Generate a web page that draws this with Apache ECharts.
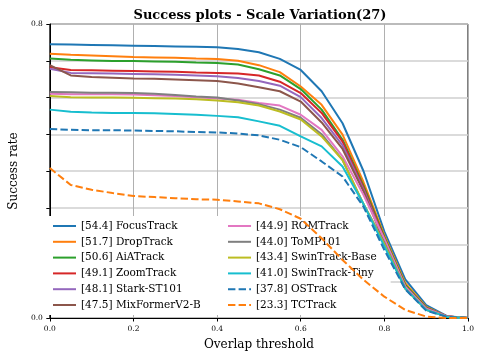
<!DOCTYPE html>
<html>
<head>
<meta charset="utf-8">
<script src="https://cdn.jsdelivr.net/npm/echarts@6/dist/echarts.min.js"></script>
<style>
  html, body { margin: 0; padding: 0; background: #fff; }
  #chart { width: 482px; height: 359px; }
</style>
</head>
<body>
<div id="chart"></div>
<script>
var thresholds = [0, 0.05, 0.1, 0.15, 0.2, 0.25, 0.3, 0.35, 0.4, 0.45, 0.5, 0.55, 0.6, 0.65, 0.7, 0.75, 0.8, 0.85, 0.9, 0.95, 1.0];

var names = ['[54.4] FocusTrack', '[51.7] DropTrack', '[50.6] AiATrack', '[49.1] ZoomTrack', '[48.1] Stark-ST101', '[47.5] MixFormerV2-B',
	'[44.9] ROMTrack', '[44.0] ToMP101', '[43.4] SwinTrack-Base', '[41.0] SwinTrack-Tiny', '[37.8] OSTrack', '[23.3] TCTrack'];

var focusTrack = [0.745, 0.744, 0.743, 0.742, 0.741, 0.740, 0.739, 0.738, 0.737, 0.732, 0.723, 0.705, 0.675, 0.617, 0.530, 0.400, 0.235, 0.105, 0.035, 0.005, 0];
var dropTrack = [0.719, 0.716, 0.714, 0.712, 0.710, 0.709, 0.708, 0.706, 0.705, 0.700, 0.688, 0.669, 0.630, 0.580, 0.499, 0.370, 0.225, 0.095, 0.030, 0.004, 0];
var aiaTrack = [0.706, 0.703, 0.701, 0.699, 0.699, 0.698, 0.697, 0.695, 0.694, 0.690, 0.677, 0.660, 0.623, 0.567, 0.485, 0.360, 0.220, 0.090, 0.028, 0.004, 0];
var zoomTrack = [0.682, 0.675, 0.674, 0.673, 0.672, 0.671, 0.670, 0.668, 0.667, 0.665, 0.660, 0.643, 0.612, 0.558, 0.480, 0.355, 0.215, 0.085, 0.027, 0.004, 0];
var starkST101 = [0.678, 0.667, 0.666, 0.665, 0.664, 0.663, 0.662, 0.660, 0.658, 0.653, 0.645, 0.632, 0.601, 0.544, 0.470, 0.350, 0.210, 0.085, 0.026, 0.004, 0];
var mixFormerV2 = [0.688, 0.660, 0.656, 0.654, 0.652, 0.651, 0.649, 0.647, 0.645, 0.638, 0.628, 0.617, 0.589, 0.532, 0.460, 0.345, 0.205, 0.085, 0.025, 0.004, 0];
var romTrack = [0.610, 0.609, 0.609, 0.609, 0.608, 0.606, 0.604, 0.601, 0.597, 0.594, 0.585, 0.578, 0.553, 0.512, 0.440, 0.335, 0.215, 0.085, 0.025, 0.004, 0];
var tomp101 = [0.615, 0.614, 0.613, 0.613, 0.612, 0.610, 0.607, 0.603, 0.600, 0.592, 0.582, 0.567, 0.545, 0.500, 0.430, 0.310, 0.205, 0.080, 0.022, 0.003, 0];
var swinBase = [0.604, 0.601, 0.600, 0.600, 0.599, 0.598, 0.597, 0.595, 0.592, 0.587, 0.578, 0.562, 0.540, 0.494, 0.430, 0.310, 0.200, 0.080, 0.022, 0.003, 0];
var swinTiny = [0.567, 0.561, 0.559, 0.558, 0.558, 0.557, 0.555, 0.553, 0.550, 0.546, 0.535, 0.523, 0.494, 0.467, 0.412, 0.310, 0.195, 0.080, 0.022, 0.003, 0];
var osTrack = [0.514, 0.512, 0.511, 0.511, 0.510, 0.509, 0.508, 0.506, 0.505, 0.502, 0.497, 0.485, 0.465, 0.426, 0.385, 0.303, 0.185, 0.078, 0.020, 0.003, 0];
var tcTrack = [0.408, 0.362, 0.349, 0.340, 0.332, 0.329, 0.326, 0.323, 0.322, 0.317, 0.312, 0.296, 0.270, 0.217, 0.158, 0.104, 0.058, 0.022, 0.004, 0, 0];

var allValues = [focusTrack, dropTrack, aiaTrack, zoomTrack, starkST101, mixFormerV2, romTrack, tomp101, swinBase, swinTiny, osTrack, tcTrack];
var colors = ['#1f77b4', '#ff7f0e', '#2ca02c', '#d62728', '#9467bd', '#8c564b', '#e377c2', '#7f7f7f', '#bcbd22', '#17becf', '#1f77b4', '#ff7f0e'];
var dashed = [false, false, false, false, false, false, false, false, false, false, true, true];

var font = 'DejaVu Serif';

var series = [];
for (var i = 0; i < names.length; i++) {
	series.push({
		name: names[i],
		type: 'line',
		data: thresholds.map(function (t, k) { return [t, allValues[i][k]]; }),
		showSymbol: false,
		symbol: 'none',
		z: 3 + i,
		lineStyle: {
			color: colors[i],
			width: 2,
			type: dashed[i] ? [7.4, 3.2] : 'solid'
		},
		itemStyle: { color: colors[i] }
	});
}

var legendCommon = {
	orient: 'vertical',
	top: 216,
	itemWidth: 23,
	itemHeight: 10,
	itemGap: 1.8,
	z: 1,
	backgroundColor: '#ffffff',
	itemStyle: { opacity: 0 },
	textStyle: {
		fontFamily: font,
		fontSize: 10.5,
		color: '#000',
		lineHeight: 14
	}
};

var chart = echarts.init(document.getElementById('chart'));
var option = {
	animation: false,
	color: colors,
	title: {
		text: 'Success plots - Scale Variation(27)',
		left: 255,
		textAlign: 'center',
		top: 4,
		textStyle: {
			fontFamily: font,
			fontWeight: 'bold',
			fontSize: 13,
			color: '#000'
		}
	},
	grid: {
		left: 43,
		right: 14,
		top: 24,
		bottom: 41,
		show: true,
		borderColor: '#000',
		borderWidth: 1,
		backgroundColor: '#fff'
	},
	legend: [
		Object.assign({}, legendCommon, {
			left: 45,
			padding: [3, 20, 3, 7],
			data: names.slice(0, 6)
		}),
		Object.assign({}, legendCommon, {
			left: 220,
			padding: [3, 14, 3, 7],
			data: names.slice(6)
		})
	],
	xAxis: {
		type: 'value',
		min: 0,
		max: 1,
		interval: 0.2,
		name: 'Overlap threshold',
		nameLocation: 'middle',
		nameGap: 21,
		nameTextStyle: { fontFamily: font, fontSize: 12, color: '#000' },
		axisLine: { show: true, lineStyle: { color: '#000', width: 1 } },
		axisTick: { show: true, length: 3.5, lineStyle: { color: '#000' } },
		axisLabel: {
			fontFamily: font,
			fontSize: 7.5,
			color: '#000',
			margin: 7,
			formatter: function (v) { return v.toFixed(1); }
		},
		splitLine: { show: true, lineStyle: { color: '#b0b0b0', width: 1 } }
	},
	yAxis: {
		type: 'value',
		min: 0,
		max: 0.8,
		interval: 0.1,
		name: 'Success rate',
		nameLocation: 'middle',
		nameGap: 28,
		nameTextStyle: { fontFamily: font, fontSize: 12, color: '#000' },
		axisLine: { show: true, lineStyle: { color: '#000', width: 1 } },
		axisTick: { show: true, length: 3.5, lineStyle: { color: '#000' } },
		axisLabel: {
			fontFamily: font,
			fontSize: 7.5,
			color: '#000',
			margin: 7,
			formatter: function (v) {
				if (Math.abs(v) < 1e-9 || Math.abs(v - 0.8) < 1e-9) return v.toFixed(1);
				return '';
			}
		},
		splitLine: { show: true, lineStyle: { color: '#cfcfcf', width: 1.5 } }
	},
	series: series
};

chart.setOption(option, true);
</script>
</body>
</html>
